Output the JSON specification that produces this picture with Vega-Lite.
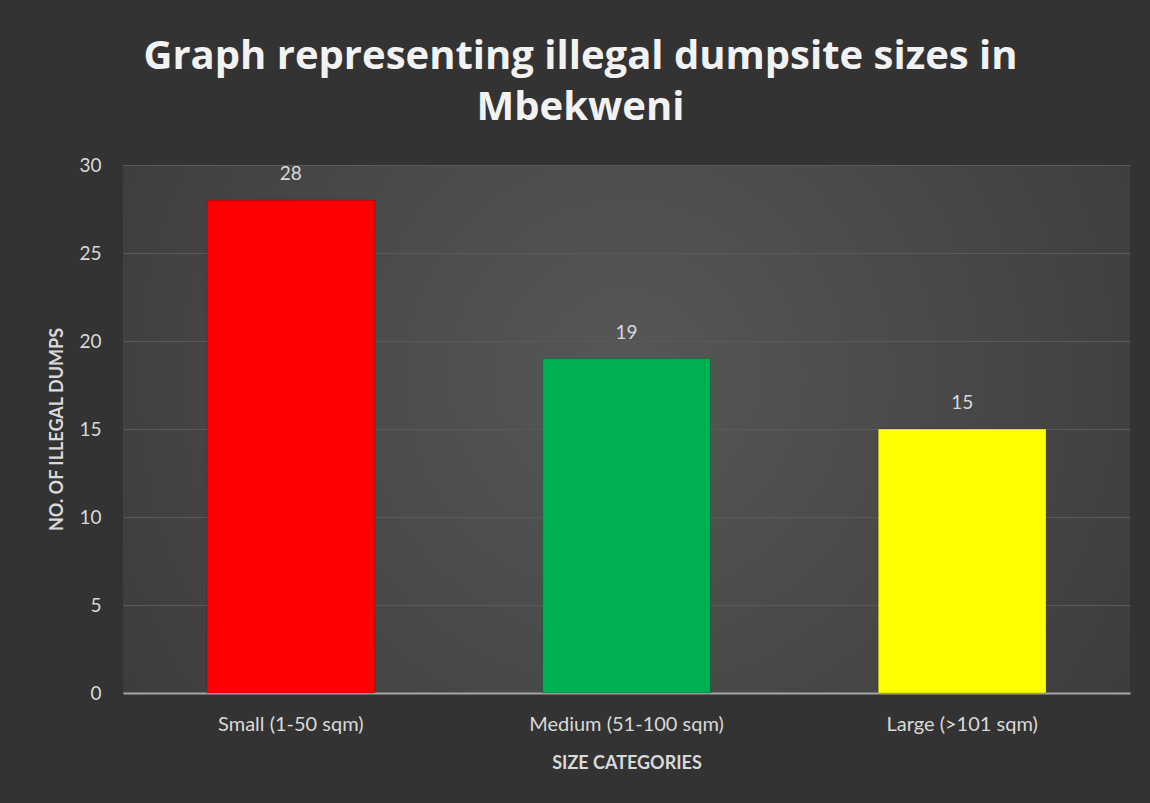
{
  "$schema": "https://vega.github.io/schema/vega-lite/v6.json",
  "autosize": "none",
  "width": 1007,
  "height": 528,
  "padding": {"left": 123, "top": 165, "right": 20, "bottom": 110},
  "background": "#333333",
  "config": {
    "view": {"stroke": null, "fill": {"gradient": "radial", "x1": 0.5, "y1": 0.45, "r1": 0, "x2": 0.5, "y2": 0.45, "r2": 0.75, "stops": [{"offset": 0, "color": "#575757"}, {"offset": 1, "color": "#353535"}]}},
    "font": "Lato"
  },
  "title": {
    "text": ["Graph representing illegal dumpsite sizes in", "Mbekweni"],
    "font": "Open Sans",
    "fontSize": 40,
    "fontWeight": "bold",
    "color": "#f2f2f2",
    "anchor": "middle",
    "frame": "group",
    "dx": -46,
    "lineHeight": 51,
    "offset": 28
  },
  "data": {
    "values": [
      {"category": "Small (1-50 sqm)", "count": 28},
      {"category": "Medium (51-100 sqm)", "count": 19},
      {"category": "Large (>101 sqm)", "count": 15}
    ]
  },
  "encoding": {
    "x": {
      "field": "category", "type": "nominal", "sort": null,
      "scale": {"paddingInner": 0.5, "paddingOuter": 0.25},
      "axis": {
        "title": "SIZE CATEGORIES", "titleFont": "Lato", "titleFontSize": 18, "titleFontWeight": "bold", "titleColor": "#d9d9d9", "titlePadding": 20,
        "labelAngle": 0, "labelFont": "Lato", "labelFontSize": 20, "labelColor": "#d9d9d9", "labelPadding": 21, "labelLimit": 0,
        "ticks": false, "domainColor": "#a6a6a6", "domainWidth": 2, "grid": false
      }
    },
    "y": {
      "field": "count", "type": "quantitative",
      "scale": {"domain": [0, 30]},
      "axis": {
        "title": "NO. OF ILLEGAL DUMPS", "titleFont": "Lato", "titleFontSize": 18, "titleFontWeight": "bold", "titleColor": "#d9d9d9", "titlePadding": 12,
        "values": [0, 5, 10, 15, 20, 25, 30],
        "labelFont": "Lato", "labelFontSize": 19, "labelColor": "#d9d9d9", "labelPadding": 22,
        "ticks": false, "domain": false, "gridColor": "#5a5a5a", "gridWidth": 1
      }
    }
  },
  "layer": [
    {
      "mark": {"type": "bar", "stroke": "#00000033", "strokeWidth": 1},
      "encoding": {
        "color": {
          "field": "category", "type": "nominal", "sort": null, "legend": null,
          "scale": {"domain": ["Small (1-50 sqm)", "Medium (51-100 sqm)", "Large (>101 sqm)"], "range": ["#ff0000", "#00b050", "#ffff00"]}
        }
      }
    },
    {
      "mark": {"type": "text", "baseline": "bottom", "dy": -16, "font": "Lato", "fontSize": 19, "color": "#d9d9d9"},
      "encoding": {"text": {"field": "count", "type": "quantitative"}}
    }
  ]
}
